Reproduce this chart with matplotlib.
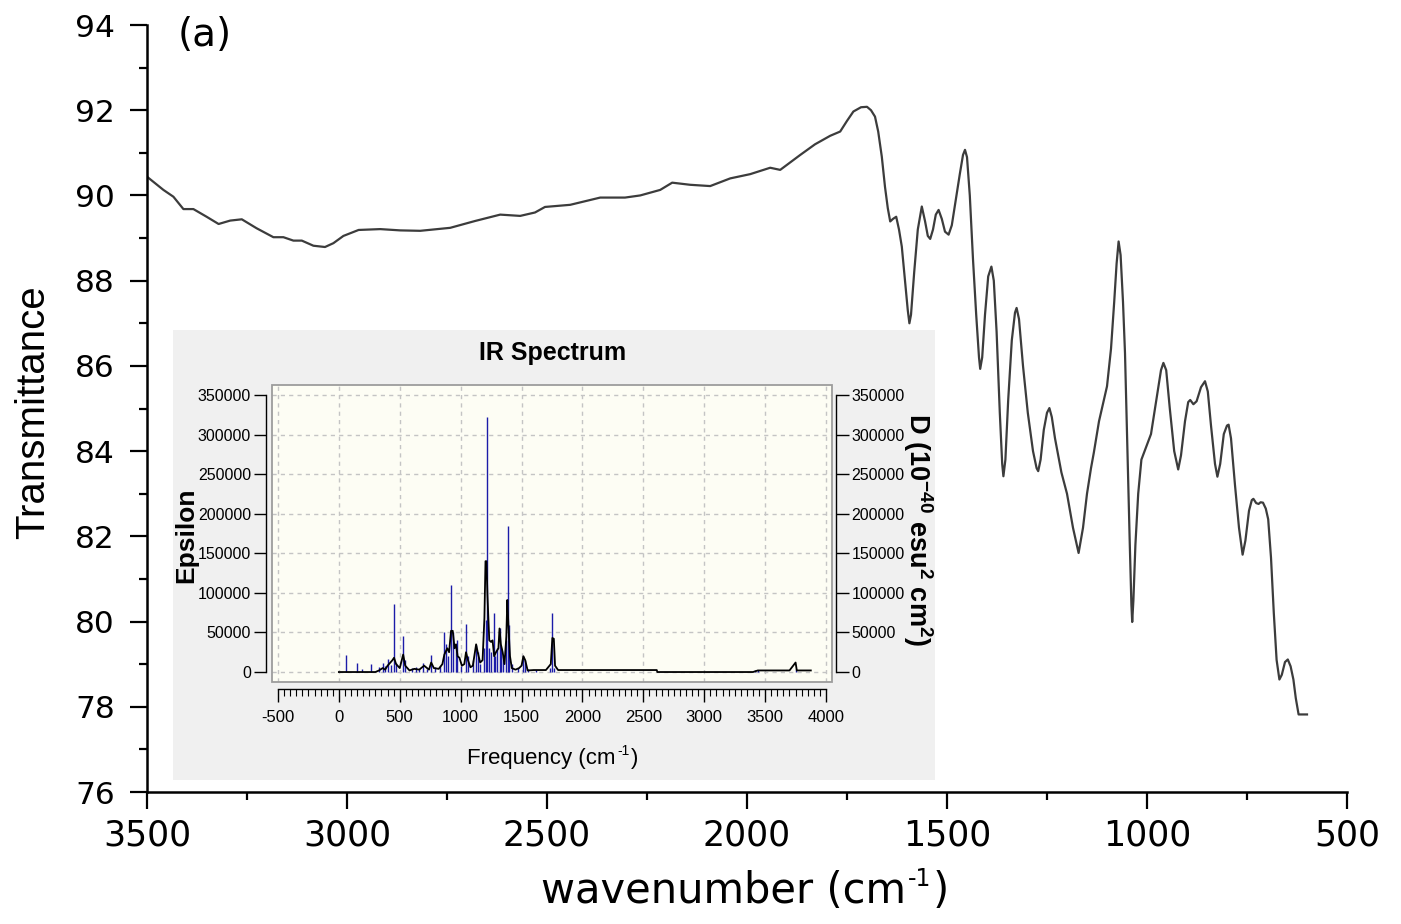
import matplotlib
matplotlib.use("Agg")
import matplotlib.pyplot as plt
from matplotlib.ticker import MultipleLocator, FixedLocator, FormatStrFormatter
from matplotlib.patches import Rectangle

# ---- measured FT-IR transmittance ----
wavenumber = [3500, 3459, 3434, 3409, 3384, 3351, 3321, 3292, 3263, 3226, 3184, 3159,
              3134, 3113, 3084, 3055, 3034, 3009, 2971, 2917, 2867, 2817, 2742, 2680,
              2617, 2567, 2530, 2505, 2442, 2367, 2305, 2267, 2217, 2187, 2142, 2092,
              2042, 1992, 1942, 1917, 1867, 1830, 1792, 1767, 1750, 1734, 1715, 1700,
              1690, 1680, 1672, 1663, 1655, 1648, 1642, 1635, 1627, 1620, 1613, 1605,
              1598, 1594, 1590, 1582, 1573, 1563, 1555, 1548, 1542, 1535, 1528, 1521,
              1513, 1505, 1496, 1488, 1478, 1468, 1460, 1455, 1450, 1443, 1435, 1427,
              1420, 1417, 1412, 1405, 1397, 1389, 1383, 1376, 1368, 1362, 1359, 1354,
              1347, 1338, 1330, 1326, 1320, 1310, 1298, 1285, 1276, 1272, 1266, 1258,
              1250, 1244, 1238, 1230, 1214, 1200, 1185, 1171, 1160, 1150, 1140, 1133,
              1120, 1100, 1090, 1082, 1076, 1071, 1066, 1060, 1055, 1049, 1043, 1039,
              1037, 1034, 1029, 1022, 1014, 1000, 990, 975, 965, 959, 952, 943, 932,
              922, 915, 905, 897, 892, 884, 876, 865, 855, 848, 840, 830, 824, 817, 808,
              800, 796, 790, 780, 770, 761, 754, 745, 738, 734, 727, 721, 716, 710, 703,
              697, 690, 683, 676, 669, 663, 655, 648, 641, 634, 628, 621, 600]
transmittance = [90.44, 90.13, 89.97, 89.68, 89.68, 89.50, 89.33, 89.41, 89.44, 89.23, 89.02, 89.02,
                 88.94, 88.94, 88.82, 88.79, 88.88, 89.05, 89.19, 89.21, 89.18, 89.17, 89.24, 89.40,
                 89.55, 89.52, 89.60, 89.73, 89.78, 89.95, 89.95, 90.00, 90.13, 90.30, 90.25, 90.22,
                 90.40, 90.50, 90.65, 90.60, 90.95, 91.20, 91.40, 91.50, 91.75, 91.97, 92.07, 92.08,
                 92.00, 91.85, 91.50, 90.91, 90.20, 89.70, 89.39, 89.45, 89.50, 89.20, 88.80, 88.00,
                 87.30, 87.00, 87.20, 88.20, 89.20, 89.74, 89.40, 89.05, 88.98, 89.20, 89.55, 89.66,
                 89.45, 89.15, 89.08, 89.30, 89.90, 90.50, 90.95, 91.07, 90.90, 90.00, 88.50, 87.20,
                 86.20, 85.93, 86.20, 87.20, 88.10, 88.33, 88.00, 86.80, 84.90, 83.70, 83.41, 83.80,
                 85.20, 86.60, 87.25, 87.36, 87.10, 86.00, 84.90, 84.00, 83.60, 83.53, 83.80, 84.50,
                 84.90, 85.01, 84.80, 84.30, 83.50, 83.00, 82.20, 81.61, 82.20, 83.00, 83.60, 83.96,
                 84.70, 85.52, 86.40, 87.50, 88.40, 88.92, 88.60, 87.50, 86.30, 84.00, 81.80, 80.40,
                 79.99, 80.50, 81.80, 83.00, 83.80, 84.15, 84.40, 85.30, 85.90, 86.07, 85.90, 85.00, 84.00,
                 83.57, 83.90, 84.70, 85.15, 85.20, 85.10, 85.17, 85.50, 85.64, 85.40, 84.60, 83.70, 83.40,
                 83.70, 84.40, 84.60, 84.62, 84.30, 83.20, 82.20, 81.57, 81.90, 82.60, 82.85, 82.88, 82.78,
                 82.76, 82.80, 82.79, 82.65, 82.40, 81.50, 80.20, 79.10, 78.64, 78.75, 79.05, 79.11, 78.95,
                 78.64, 78.20, 77.82, 77.82]

# ---- computed IR spectrum (inset) ----
stick_freq = [55, 146, 192, 261, 330, 365, 380, 404, 430, 453, 470, 528, 545, 600, 632, 660,
              692, 720, 758, 790, 830, 866, 880, 900, 921, 935, 962, 973, 1000, 1044, 1060,
              1100, 1127, 1140, 1160, 1190, 1204, 1217, 1230, 1250, 1270, 1285, 1300, 1319,
              1330, 1345, 1370, 1388, 1400, 1420, 1470, 1511, 1525, 1550, 1620, 1730, 1753,
              1770, 3420, 3440, 3750]
stick_D = [21000, 12000, 4000, 10000, 6000, 11000, 8000, 16000, 9000, 86000, 12000, 46000,
           15000, 5000, 6000, 4000, 12000, 4000, 22000, 6000, 8000, 50000, 35000, 20000,
           110000, 50000, 34000, 40000, 8000, 61000, 20000, 15000, 34000, 25000, 10000,
           30000, 66000, 322000, 30000, 25000, 75000, 20000, 30000, 55000, 30000, 20000,
           40000, 184000, 60000, 10000, 5000, 20000, 15000, 4000, 3000, 5000, 75000, 5000,
           2000, 3000, 4000]
eps_freq = [0, 300, 330, 360, 380, 400, 440, 453, 470, 500, 528, 545, 580, 620, 660, 700,
            740, 758, 780, 820, 850, 866, 890, 905, 921, 935, 950, 962, 975, 990, 1010,
            1030, 1044, 1060, 1080, 1100, 1127, 1140, 1160, 1180, 1195, 1204, 1212, 1220,
            1235, 1250, 1262, 1275, 1290, 1310, 1319, 1330, 1345, 1360, 1375, 1383, 1392,
            1405, 1420, 1450, 1480, 1500, 1515, 1530, 1550, 1600, 1700, 1740, 1753, 1765,
            1775, 1800, 2610, 2615, 3400, 3440, 3470, 3700, 3750, 3760, 3875]
eps_val = [0, 0, 2000, 5000, 3000, 8000, 15000, 18000, 10000, 5000, 22000, 8000, 2000,
           4000, 3000, 8000, 3000, 12000, 5000, 4000, 10000, 22000, 30000, 25000, 52000,
           52000, 30000, 35000, 20000, 18000, 8000, 10000, 25000, 15000, 6000, 8000, 35000,
           25000, 12000, 15000, 68000, 140000, 140000, 97000, 40000, 38000, 40000, 20000,
           25000, 30000, 55000, 35000, 25000, 10000, 45000, 91000, 60000, 20000, 5000, 3000,
           5000, 8000, 20000, 15000, 2000, 2500, 2500, 10000, 43000, 42000, 8000, 2500, 2500,
           0, 0, 2000, 2000, 2000, 12000, 2000, 2000]

MAIN = ["Liberation Sans", "DejaVu Sans"]
WIDE = ["DejaVu Sans"]
plt.rcParams["font.family"] = MAIN
plt.rcParams["axes.unicode_minus"] = False
plt.rcParams["mathtext.fontset"] = "custom"
plt.rcParams["mathtext.rm"] = "Liberation Sans"
plt.rcParams["mathtext.bf"] = "Liberation Sans:bold"

W, H = 1401, 924
fig = plt.figure(figsize=(W / 100, H / 100), dpi=100)
renderer = fig.canvas.get_renderer()


def px_rect(x0, y0, x1, y1):
    return [x0 / W, 1 - y1 / H, (x1 - x0) / W, (y1 - y0) / H]


def ftext(x, y, s, **kw):
    return fig.text(x / W, 1 - y / H, s, **kw)


def unit_label(cx, base_y, head, sup, size, sup_size, rise, family):
    """Centred label of the form 'head' + raised 'sup' + ')'."""
    parts = [ftext(0, base_y, head, fontsize=size, family=family, va="baseline"),
             ftext(0, base_y - rise, sup, fontsize=sup_size, family=family, va="baseline"),
             ftext(0, base_y, ")", fontsize=size, family=family, va="baseline")]
    widths = [p.get_window_extent(renderer).width for p in parts]
    gap = 1.5
    x = cx - (sum(widths) + 2 * gap) / 2
    for p, w in zip(parts, widths):
        p.set_x(x / W)
        x += w + gap


# ---- main transmittance panel ----
ax = fig.add_axes(px_rect(147, 25, 1347, 792))
ax.plot(wavenumber, transmittance, color="#3c3c3c", lw=1.6, zorder=2)
ax.set_xlim(3500, 500)
ax.set_ylim(76, 94)
for side in ("top", "right"):
    ax.spines[side].set_visible(False)
for side in ("left", "bottom"):
    ax.spines[side].set_linewidth(1.8)
ax.xaxis.set_major_locator(MultipleLocator(500))
ax.xaxis.set_minor_locator(MultipleLocator(250))
ax.yaxis.set_major_locator(MultipleLocator(2))
ax.yaxis.set_minor_locator(MultipleLocator(1))
ax.tick_params(which="major", direction="out", length=12, width=1.6)
ax.tick_params(which="minor", direction="out", length=6, width=1.6)
ax.tick_params(axis="y", labelsize=22.5, pad=11, labelfontfamily=WIDE)
ax.tick_params(axis="x", labelsize=25, pad=7, labelfontfamily=WIDE)
ax.patch.set_visible(False)

ftext(33, 412, "Transmittance", rotation=90, ha="center", va="center", fontsize=29)
unit_label(745, 903, "wavenumber (cm", "-1", 30, 17, 17, WIDE)
ftext(205, 35, "(a)", ha="center", va="center", fontsize=28, family=WIDE)

# ---- inset: computed IR spectrum ----
bg = fig.add_axes(px_rect(173, 330, 935, 780), zorder=3)
bg.set_facecolor("#f0f0f0")
bg.set_xticks([])
bg.set_yticks([])
for s in bg.spines.values():
    s.set_visible(False)

ia = fig.add_axes(px_rect(272, 385, 832, 682), zorder=4)
ia.set_facecolor("#fdfdf4")
ia.set_xlim(-549, 4049)
ia.set_ylim(-12600, 362600)
ia.vlines(stick_freq, 0, stick_D, color="#1c1ca8", lw=1.0, zorder=3)
ia.plot(eps_freq, eps_val, color="black", lw=1.3, zorder=4)

ia.xaxis.set_major_locator(FixedLocator(list(range(-500, 4001, 500))))
ia.xaxis.set_minor_locator(MultipleLocator(50))
yt = list(range(0, 350001, 50000))
ia.yaxis.set_major_locator(FixedLocator(yt))
ia.yaxis.set_major_formatter(FormatStrFormatter("%d"))
ia.grid(True, which="major", color="#c4c4c4", ls=(0, (3, 3)), lw=1.0)

ia.spines["top"].set_visible(False)
ia.spines["right"].set_visible(False)
ia.spines["left"].set_position(("outward", 4))
ia.spines["left"].set_bounds(0, 350000)
ia.spines["bottom"].set_position(("outward", 5))
ia.spines["bottom"].set_bounds(-500, 4000)
for s in ("left", "bottom"):
    ia.spines[s].set_linewidth(1.0)
ia.add_patch(Rectangle((0, 0), 1, 1, transform=ia.transAxes, fill=False,
                       edgecolor="#9c9c9c", lw=1.3, clip_on=False, zorder=5))
ia.tick_params(which="major", direction="out", length=9, width=1.0,
               labelsize=11.5, pad=2)
ia.tick_params(axis="x", which="major", pad=6, labelsize=12)
ia.tick_params(which="minor", axis="x", direction="out", length=5, width=0.8)

ra = ia.twinx()
ra.set_ylim(ia.get_ylim())
ra.yaxis.set_major_locator(FixedLocator(yt))
ra.yaxis.set_major_formatter(FormatStrFormatter("%d"))
for s in ("top", "left", "bottom"):
    ra.spines[s].set_visible(False)
ra.spines["right"].set_position(("outward", 3))
ra.spines["right"].set_bounds(0, 350000)
ra.spines["right"].set_linewidth(1.0)
ra.tick_params(direction="out", length=9, width=1.0, labelsize=11.5, pad=2)

ftext(553, 353, "IR Spectrum", ha="center", va="center", fontsize=18,
      fontweight="bold")
ftext(186, 535, "Epsilon", rotation=90, ha="center", va="center", fontsize=19,
      fontweight="bold")
ftext(918, 530, r"D (10$^{\mathbf{-40}}$ esu$^{\mathbf{2}}$ cm$^{\mathbf{2}}$)", rotation=270,
      ha="center", va="center", fontsize=19.5, fontweight="bold")
unit_label(553, 764, "Frequency (cm", "-1", 16, 10, 9, MAIN)

fig.savefig("out.png", dpi=100)
